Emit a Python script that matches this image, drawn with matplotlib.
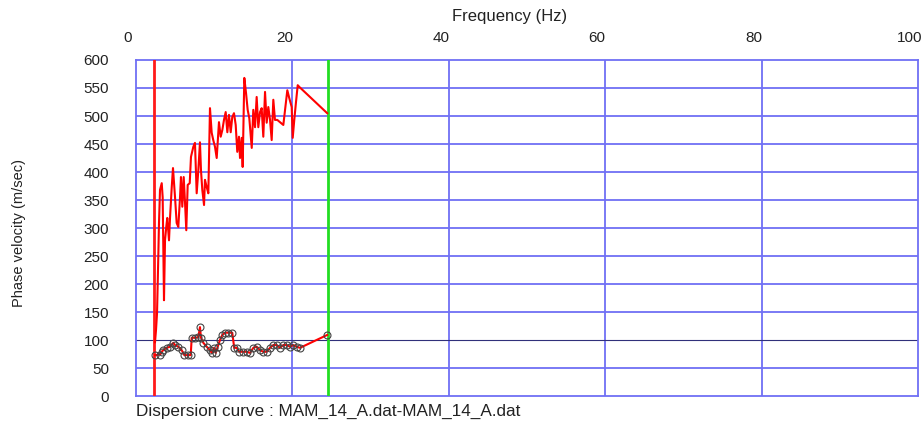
import matplotlib
matplotlib.use("Agg")
import matplotlib.pyplot as plt
from matplotlib.transforms import ScaledTranslation

plt.rcParams['font.family'] = ['Liberation Sans', 'DejaVu Sans']

# Upper (raw) phase velocity curve
upper_freq = [2.43, 2.56, 2.69, 2.85, 2.94, 3.07, 3.29, 3.41, 3.58, 3.71, 3.87, 4.00,
              4.22, 4.35, 4.57, 4.73, 4.99, 5.20, 5.41, 5.63, 5.75, 5.92, 6.10, 6.27,
              6.43, 6.61, 6.87, 7.03, 7.33, 7.54, 7.76, 7.97, 8.18, 8.31, 8.48, 8.70,
              8.82, 9.04, 9.25, 9.46, 9.68, 9.88, 10.10, 10.32, 10.61, 10.83, 11.04,
              11.25, 11.47, 11.68, 11.89, 12.11, 12.31, 12.53, 12.75, 12.95, 13.17,
              13.30, 13.52, 13.64, 13.85, 14.07, 14.28, 14.49, 14.80, 15.00, 15.22,
              15.43, 15.64, 15.86, 16.07, 16.28, 16.50, 16.71, 16.92, 17.14, 17.35,
              17.56, 17.77, 18.07, 18.41, 18.84, 19.35, 19.60, 19.91, 20.04, 20.24,
              20.46, 20.68, 20.88, 24.45]
upper_vel = [96, 118, 148, 248, 309, 368, 380, 355, 171, 278, 302, 318,
             278, 318, 373, 407, 355, 309, 302, 355, 391, 338, 391, 345,
             296, 377, 380, 427, 445, 452, 362, 403, 453, 403, 368, 341,
             386, 373, 362, 514, 470, 457, 445, 425, 489, 463, 475,
             493, 507, 471, 502, 471, 498, 505, 484, 436, 463,
             425, 461, 409, 568, 541, 511, 496, 443, 511, 480,
             534, 480, 507, 514, 463, 543, 488, 516, 493, 457,
             529, 493, 493, 489, 484, 546, 532, 516, 461, 493,
             525, 555, 552, 505]

# Lower (picked) dispersion curve
lower_freq = [2.43, 3.10, 3.29, 3.49, 3.93, 4.35, 4.77, 4.99, 5.41, 5.84, 6.18, 6.61,
              7.00, 7.12, 7.54, 7.97, 8.18, 8.31, 8.61, 9.04, 9.46, 9.68, 9.97,
              10.19, 10.45, 10.74, 11.04, 11.38, 11.80, 12.31, 12.56, 12.88, 13.20,
              13.72, 14.16, 14.58, 15.00, 15.43, 15.86, 16.28, 16.71, 17.14, 17.56,
              17.99, 18.41, 18.84, 19.27, 19.69, 20.12, 20.55, 20.97, 24.45]
lower_vel = [73, 74, 79, 82, 86, 88, 95, 91, 88, 82, 73, 73,
             73, 104, 104, 105, 123, 104, 95, 88, 82, 77, 86,
             77, 88, 100, 109, 113, 113, 113, 86, 86, 79,
             79, 79, 77, 86, 88, 82, 79, 79, 86, 91,
             91, 86, 91, 91, 88, 91, 88, 86, 109]

x_ticks = [0, 20, 40, 60, 80, 100]
y_ticks = [0, 50, 100, 150, 200, 250, 300, 350, 400, 450, 500, 550, 600]
red_limit = 2.3
green_limit = 24.55

fig = plt.figure(figsize=(9.23, 4.22), dpi=100)
ax = fig.add_axes([136/923, 1-396/422, (918-136)/923, (396-60)/422])
ax.set_xlim(0, 100)
ax.set_ylim(0, 600)

grid_c = '#7070f4'
for xv in x_ticks[1:-1]:
    ax.axvline(xv, color=grid_c, lw=1.3, zorder=1)
for yv in y_ticks[1:-1]:
    if yv == 100:
        ax.axhline(yv, color='#30307a', lw=0.8, zorder=1)
    else:
        ax.axhline(yv, color=grid_c, lw=1.3, zorder=1)
for s in ax.spines.values():
    s.set_color(grid_c)
    s.set_linewidth(1.3)

ax.axvline(red_limit, color='#ff1a1a', lw=2.0, zorder=3)
ax.axvline(green_limit, color='#22dd22', lw=2.0, zorder=3)

ax.plot(upper_freq, upper_vel, color='#ff0000', lw=1.5, zorder=4)
ax.plot(lower_freq, lower_vel, color='#ff0000', lw=1.5, zorder=4,
        marker='o', ms=5, mfc='none', mec='#444444', mew=0.8)

ax.xaxis.tick_top()
ax.set_xticks(x_ticks)
ax.set_xticklabels([str(v) for v in x_ticks])
ax.set_yticks(y_ticks)
ax.set_yticklabels([str(v) for v in y_ticks])
ax.tick_params(axis='x', length=0, pad=11, labelsize=11, labelcolor='#222222')
ax.tick_params(axis='y', length=0, pad=19.5, labelsize=11, labelcolor='#222222')
for lab in ax.get_xticklabels():
    lab.set_transform(lab.get_transform() + ScaledTranslation(-8/100, 0, fig.dpi_scale_trans))

fig.text(510/923, 1-16/422, 'Frequency (Hz)', ha='center', va='center', fontsize=12, color='#222222')
fig.text(19/923, 1-233/422, 'Phase velocity (m/sec)', ha='center', va='center',
         rotation=90, fontsize=10.5, color='#222222')
fig.text(136/923, 1-411/422, 'Dispersion curve : MAM_14_A.dat-MAM_14_A.dat',
         ha='left', va='center', fontsize=12.3, color='#222222')

fig.savefig('out.png', dpi=100)
